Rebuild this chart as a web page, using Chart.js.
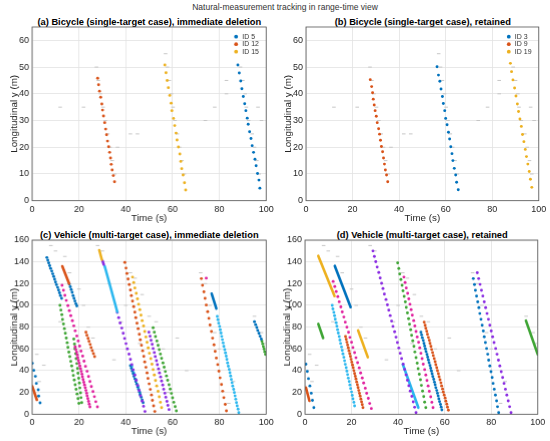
<!DOCTYPE html>
<html>
<head>
<meta charset="utf-8">
<script src="https://cdn.jsdelivr.net/npm/chart.js@4.4.0/dist/chart.umd.min.js"></script>
<style>
  body { margin: 0; background: #fff; width: 550px; height: 441px; overflow: hidden; position: relative;
         font-family: "Liberation Sans", Arial, sans-serif; color: #262626; }
  .wrap { position: absolute; }
  .ptitle { position: absolute; font-weight: bold; font-size: 9.3px; line-height: 10px; color: #000;
            white-space: nowrap; transform: translateX(-50%); }
  #main { position: absolute; left: 285px; top: 2px; font-size: 8.5px; line-height: 10px; color: #333;
          white-space: nowrap; transform: translateX(-50%); }
</style>
</head>
<body>
<div id="main">Natural-measurement tracking in range-time view</div>
<div class="ptitle" style="left:149.3px;top:16.5px">(a) Bicycle (single-target case), immediate deletion</div>
<div class="ptitle" style="left:422.8px;top:16.5px">(b) Bicycle (single-target case), retained</div>
<div class="ptitle" style="left:149.3px;top:229.5px">(c) Vehicle (multi-target case), immediate deletion</div>
<div class="ptitle" style="left:422.2px;top:229.5px">(d) Vehicle (multi-target case), retained</div>
<div class="wrap" id="wa"><canvas id="ca"></canvas></div>
<div class="wrap" id="wb"><canvas id="cb"></canvas></div>
<div class="wrap" id="wc"><canvas id="cc"></canvas></div>
<div class="wrap" id="wd"><canvas id="cd"></canvas></div>
<script>
// ── 数据：每条轨迹都是 [time (s), longitudinal y (m)] ──────────────────────────
const timeTicks = [0, 20, 40, 60, 80, 100];
const bikeYTicks = [0, 10, 20, 30, 40, 50, 60];
const carYTicks = [0, 20, 40, 60, 80, 100, 120, 140, 160];

// (a) bicycle, immediate deletion
const aId5 = [[87.9,50.8],[88.5,47.8],[89.1,44.8],[89.6,41.9],[90.2,39.0],[90.8,36.3],[91.3,33.7],[91.9,30.9],[92.3,28.6],[92.9,25.8],[93.5,23.3],[94.0,20.6],[94.6,18.1],[95.2,15.5],[95.7,13.1],[96.3,10.2],[96.9,7.7],[97.3,4.7]];
const aId12 = [[28.0,45.8],[28.4,43.4],[28.8,41.0],[29.3,38.7],[29.8,36.2],[30.1,33.9],[30.5,31.7],[31.0,29.2],[31.4,26.8],[31.8,24.7],[32.2,22.3],[32.7,20.2],[33.1,18.1],[33.5,16.0],[33.8,13.6],[34.2,11.5],[34.7,9.4],[35.2,7.1]];
const aId15 = [[56.7,50.8],[57.2,47.9],[57.7,45.0],[58.2,42.3],[58.8,39.4],[59.4,36.5],[59.7,33.7],[60.4,30.8],[60.9,28.1],[61.5,25.3],[61.9,22.7],[62.5,20.1],[63.1,17.5],[63.5,14.7],[63.9,12.0],[64.5,9.6],[65.1,6.7],[65.6,4.0]];

// (b) bicycle, retained
const bId3 = [[56.3,50.1],[56.9,47.0],[57.5,44.7],[58.0,41.8],[58.6,39.0],[59.0,36.4],[59.6,33.7],[60.0,30.8],[60.6,28.4],[61.2,25.6],[61.7,23.1],[62.2,20.2],[62.7,17.6],[63.1,15.0],[63.7,12.1],[64.3,9.6],[64.7,6.9],[65.4,4.1]];
const bId9 = [[27.6,45.3],[28.2,42.7],[28.6,40.4],[28.9,38.0],[29.3,35.8],[29.7,33.7],[30.2,31.6],[30.6,29.2],[31.2,26.9],[31.6,24.9],[32.0,22.6],[32.4,20.3],[32.9,18.3],[33.3,16.0],[33.7,13.7],[34.1,11.5],[34.6,9.6],[35.1,7.1]];
const bId19 = [[87.8,51.4],[88.3,48.3],[88.9,45.2],[89.6,42.2],[90.2,39.2],[90.8,36.2],[91.3,33.4],[91.9,30.6],[92.5,27.8],[93.0,24.8],[93.6,22.1],[94.2,19.2],[94.7,16.5],[95.3,13.7],[95.9,10.9],[96.4,8.0],[97.0,5.0]];

// natural measurements (grey clutter)
const bikeClutter = [[12,35],[22,35],[27.5,50],[28.3,45],[29.2,40],[30.3,35],[31.3,30],[32.3,25],[33.3,20],[34.2,15],[35.3,10],[36.5,20],[42,25],[45,25],[57,55],[57.8,50],[58.6,45],[59.5,40],[60.2,35],[61,30],[62,25],[63,20],[64,15],[65,10],[74,30],[78,35],[83,45],[83,40],[89,50],[90,45],[91,40],[91.5,35],[92.5,30],[94,25],[95,20],[96,15],[97,10],[96.5,35],[98,30]];
const carClutter = [[2,55],[5,45],[3,30],[8,155],[10,150],[12,85],[14,145],[16,130],[20,115],[22,100],[24,80],[26,70],[28,155],[30,150],[33,120],[38,85],[40,100],[42,130],[44,125],[47,110],[50,90],[53,85],[56,60],[62,70],[66,40],[72,130],[74,120],[76,100],[78,75],[80,60],[84,10],[86,30],[95,90],[98,75],[99,65],[35,50],[46,65],[58,20]];

// (c) vehicle, immediate deletion
const cBlue1 = [[0.1,46.8],[0.7,40.3],[1.4,34.8],[1.8,28.3],[2.6,22.5],[2.8,16.6],[3.4,10.5]];
const cOrange1 = [[0.1,25.5],[2.0,13.2]];
const cBlue2 = [[6.3,144],[6.7,141.5],[7.1,139],[7.5,136.5],[7.9,134],[8.4,131.5],[8.8,129],[9.2,126.5],[9.6,124],[10.0,121.5],[10.4,119],[10.9,116.5],[11.3,114],[11.7,111.5],[12.1,109],[12.6,106.5]];
const cOrange2 = [[12.9,136],[15.8,120]];
const cBlue3 = [[15.9,119.5],[16.3,117],[16.7,114.5],[17.1,112],[17.5,109],[17.9,106.5],[18.3,104],[18.7,101.5],[19.1,99.5]];
const cMagenta1 = [[12.8,118.5],[13.4,113.8],[14.0,109.2],[14.6,104.5],[15.3,99.8],[15.9,95.2],[16.5,90.5],[17.2,85.9],[17.8,81.2],[18.4,76.6],[19.1,71.9],[19.7,67.3],[20.3,62.6],[20.9,58.0],[21.6,53.3],[22.2,48.7],[22.8,44.0],[23.5,39.4],[24.1,34.7],[24.7,30.1],[25.3,25.4],[26.0,20.8],[26.6,16.1],[27.2,11.5],[27.9,6.8]];
const cMagenta2 = [[18.4,62],[18.7,59.5],[19.0,57],[19.3,54.5],[19.5,52],[19.8,49.5],[20.1,47],[20.4,44.4],[20.7,41.9],[21.0,39.4],[21.3,36.9],[21.5,34.4],[21.8,31.9],[22.1,29.4],[22.4,26.9],[22.7,24.4],[23.0,21.9],[23.3,19.3],[23.5,16.8],[23.8,14.3],[24.1,11.8],[24.4,9.3],[24.7,6.8]];
const cGreen1 = [[11.9,100],[12.3,95.7],[12.7,91.4],[13.0,87.1],[13.4,82.9],[13.8,78.6],[14.2,74.3],[14.6,70.0],[15.0,65.7],[15.3,61.4],[15.7,57.1],[16.1,52.9],[16.5,48.6],[16.9,44.3],[17.3,40.0],[17.6,35.7],[18.0,31.4],[18.4,27.1],[18.8,22.9],[19.2,18.6],[19.6,14.3],[20.0,10.0]];
const cGreen2 = [[17.8,69],[18.1,64.5],[18.3,60],[18.6,55.6],[18.8,51.1],[19.1,46.6],[19.4,42.1],[19.6,37.6],[19.9,33.1],[20.2,28.7],[20.4,24.2],[20.7,19.7],[20.9,15.2],[21.2,10.7]];
const cOrange3 = [[23.0,75.4],[23.4,72.6],[23.9,69.8],[24.3,67.0],[24.8,64.1],[25.2,61.3],[25.7,58.5],[26.2,55.7],[26.7,52.9]];
const cYellow1 = [[28.7,150.8],[29.8,142]];
const cPurple1 = [[30.1,141],[30.6,137.5]];
const cCyan1 = [[31.0,136],[36.4,94]];
const cPurple2 = [[36.4,93.5],[37.0,88.7],[37.6,83.9],[38.3,79.1],[38.9,74.3],[39.5,69.6],[40.1,64.8],[40.7,60.0],[41.4,55.2],[42.0,50.4],[42.6,45.6],[43.2,40.8],[43.9,36.0],[44.5,31.2],[45.1,26.5],[45.7,21.7],[46.3,16.9],[47.0,12.1],[47.6,7.3],[48.2,2.5]];
const cBlue4 = [[42.0,44.6],[42.4,42.2],[42.8,39.8],[43.2,37.3],[43.5,34.9],[43.9,32.5],[44.3,30.1],[44.7,27.7],[45.1,25.2],[45.5,22.8],[45.9,20.4],[46.2,18],[46.6,15.6],[47.0,13.1],[47.4,10.7]];
const cCyan2 = [[42.6,44],[43.4,38],[44.3,32],[45.2,25],[46.1,18]];
const cOrange4 = [[39.6,139.4],[40.1,134.3],[40.5,129.3],[41.0,124.2],[41.5,119.1],[42.0,114.1],[42.4,109.0],[42.9,103.9],[43.4,98.8],[43.9,93.8],[44.3,88.7],[44.8,83.6],[45.3,78.6],[45.8,73.5],[46.2,68.4],[46.7,63.4],[47.2,58.3],[47.7,53.2],[48.1,48.1],[48.6,43.1],[49.1,38.0],[49.5,32.9],[50.0,27.9],[50.5,22.8],[51.0,17.7],[51.4,12.7],[51.9,7.6],[52.4,2.5]];
const cYellow2 = [[42.9,126],[43.4,121],[43.9,116],[44.5,111],[45.0,106],[45.5,101],[46.0,96],[46.5,91],[47.0,86],[47.6,81],[48.1,76],[48.6,71],[49.1,66],[49.6,61],[50.1,56],[50.7,51],[51.2,46],[51.7,41],[52.2,36],[52.7,31],[53.2,26],[53.8,21],[54.3,16],[54.8,11],[55.3,6]];
const cPurple3 = [[49.9,75.4],[50.4,71.7],[50.8,67.9],[51.3,64.2],[51.7,60.4],[52.2,56.7],[52.6,53.0],[53.1,49.2],[53.5,45.5],[54.0,41.7],[54.4,38.0],[54.9,34.3],[55.3,30.5],[55.8,26.8],[56.2,23.0],[56.7,19.3],[57.1,15.6],[57.6,11.8],[58.0,8.1],[58.5,4.3]];
const cGreen3 = [[51.7,79.4],[52.2,75.4],[52.7,71.4],[53.3,67.3],[53.8,63.3],[54.3,59.3],[54.8,55.3],[55.3,51.3],[55.9,47.2],[56.4,43.2],[56.9,39.2],[57.4,35.2],[57.9,31.2],[58.5,27.1],[59.0,23.1],[59.5,19.1],[60.0,15.1],[60.5,11.0],[61.1,7.0],[61.6,3.0]];
const cOrange5 = [[72.3,124.6],[72.8,118.5],[73.4,112.4],[73.9,106.4],[74.4,100.3],[75.0,94.2],[75.5,88.1],[76.0,82.0],[76.6,76.0],[77.1,69.9],[77.7,63.8],[78.2,57.7],[78.7,51.6],[79.3,45.6],[79.8,39.5],[80.3,33.4],[80.9,27.3],[81.4,21.2],[81.9,15.2],[82.5,9.1],[83.0,3.0]];
const cMagenta3 = [[74.4,125]];
const cBlue5 = [[76.7,110.8],[78.7,97]];
const cCyan3 = [[79.1,89.8],[79.4,86.8],[79.7,83.7],[80.1,80.7],[80.4,77.6],[80.7,74.6],[81.0,71.5],[81.3,68.5],[81.6,65.5],[81.9,62.4],[82.3,59.4],[82.6,56.3],[82.9,53.3],[83.2,50.3],[83.5,47.2],[83.8,44.2],[84.2,41.1],[84.5,38.1],[84.8,35.1],[85.1,32.0],[85.4,29.0],[85.7,25.9],[86.1,22.9],[86.4,19.9],[86.7,16.8],[87.0,13.8],[87.3,10.7],[87.6,7.7],[88.0,4.6],[88.3,1.5]];
const cBlue6 = [[95.0,85],[95.5,82.3],[96.0,79.7],[96.4,77],[96.9,74.3],[97.4,71.7],[97.9,69]];
const cGreen4 = [[98.2,67],[98.5,64.6],[98.8,62.2],[99.1,59.8],[99.4,57.4],[99.7,55]];

// (d) vehicle, retained
const dBlue1 = [[0.4,46],[1.0,39.3],[1.5,32.7],[2.1,26],[2.7,19.3],[3.2,12.7],[3.8,6]];
const dOrange1 = [[0.4,24.5],[1.9,12.3]];
const dGreen1 = [[5.7,83],[7.8,70]];
const dYellow1 = [[5.7,145.5],[12.7,108.6]];
const dBlue2 = [[12.8,136.3],[19.6,98.4]];
const dMagenta1 = [[12.1,122],[12.8,117.3],[13.4,112.7],[14.1,108],[14.7,103.3],[15.4,98.6],[16.0,94],[16.7,89.3],[17.3,84.6],[18.0,80],[18.7,75.3],[19.3,70.6],[20.0,66],[20.6,61.3],[21.3,56.6],[21.9,51.9],[22.6,47.3],[23.3,42.6],[23.9,37.9],[24.6,33.3],[25.2,28.6],[25.9,23.9],[26.5,19.2],[27.2,14.6],[27.8,9.9],[28.5,5.2]];
const dCyan1 = [[11.7,100],[12.0,96.8],[12.4,93.6],[12.7,90.5],[13.0,87.3],[13.4,84.1],[13.7,80.9],[14.0,77.7],[14.3,74.6],[14.7,71.4],[15.0,68.2],[15.3,65.0],[15.7,61.8],[16.0,58.7],[16.3,55.5],[16.7,52.3],[17.0,49.1],[17.3,45.9],[17.7,42.8],[18.0,39.6],[18.3,36.4],[18.6,33.2],[19.0,30.0],[19.3,26.9],[19.6,23.7],[20.0,20.5],[20.3,17.3],[20.6,14.1],[21.0,11.0],[21.3,7.7]];
const dOrange2 = [[17.4,71.4],[17.7,68.8],[18.0,66.2],[18.3,63.6],[18.6,61],[18.9,58.3],[19.2,55.7],[19.5,53.1],[19.8,50.5],[20.1,47.9],[20.4,45.3],[20.7,42.7],[21.0,40.1],[21.3,37.5],[21.6,34.9],[21.9,32.3],[22.2,29.7],[22.5,27.1],[22.8,24.5],[23.1,21.9],[23.4,19.2],[23.7,16.6],[24.0,14],[24.3,11.4],[24.6,8.8],[24.9,6.1]];
const dYellow2 = [[22.8,77],[27.0,52.3]];
const dPurple1 = [[29.2,150],[29.8,145],[30.4,140.1],[31.0,135.2],[31.7,130.2],[32.3,125.2],[32.9,120.3],[33.5,115.4],[34.1,110.4],[34.8,105.4],[35.4,100.5],[36.0,95.6],[36.6,90.6],[37.2,85.6],[37.8,80.7],[38.5,75.8],[39.1,70.8],[39.7,65.8],[40.3,60.9],[40.9,56.0],[41.5,51],[42.2,46],[42.8,41.1],[43.4,36.2],[44.0,31.2],[44.6,26.2],[45.2,21.3],[45.9,16.4],[46.5,11.4],[47.1,6.4],[47.7,1.5]];
const dGreen2 = [[39.8,139],[40.3,133.9],[40.7,128.8],[41.2,123.7],[41.7,118.5],[42.1,113.4],[42.6,108.3],[43.1,103.2],[43.5,98.1],[44.0,93],[44.5,87.8],[44.9,82.7],[45.4,77.6],[45.8,72.5],[46.3,67.4],[46.8,62.3],[47.2,57.2],[47.7,52],[48.2,46.9],[48.6,41.8],[49.1,36.7],[49.6,31.6],[50.0,26.5],[50.5,21.3],[51.0,16.2],[51.4,11.1],[51.9,6]];
const dMagenta2 = [[42.5,126],[43.0,121],[43.5,116],[44.1,111],[44.6,106],[45.1,101],[45.6,96],[46.1,91],[46.7,86],[47.2,81],[47.7,76],[48.2,71],[48.8,66],[49.3,61],[49.8,56],[50.3,51],[50.8,46],[51.4,41],[51.9,36],[52.4,31],[52.9,26],[53.4,21],[54.0,16],[54.5,11],[55.0,6]];
const dCyan2 = [[42,46],[48.7,6]];
const dBlue3 = [[49.8,75.4],[50.1,72.9],[50.4,70.3],[50.8,67.8],[51.1,65.2],[51.4,62.7],[51.7,60.1],[52.0,57.6],[52.4,55],[52.7,52.5],[53.0,49.9],[53.3,47.4],[53.7,44.8],[54.0,42.3],[54.3,39.7],[54.6,37.2],[54.9,34.6],[55.3,32.1],[55.6,29.5],[55.9,27],[56.2,24.4],[56.6,21.9],[56.9,19.3],[57.2,16.8],[57.5,14.2],[57.8,11.7],[58.2,9.1],[58.5,6.6],[58.8,4]];
const dOrange3 = [[51.2,84.6],[51.6,81.8],[51.9,79],[52.3,76.2],[52.6,73.4],[53.0,70.6],[53.4,67.9],[53.7,65.1],[54.1,62.3],[54.4,59.5],[54.8,56.7],[55.1,53.9],[55.5,51.1],[55.9,48.3],[56.2,45.5],[56.6,42.8],[56.9,40],[57.3,37.2],[57.6,34.4],[58.0,31.6],[58.4,28.8],[58.7,26],[59.1,23.2],[59.4,20.4],[59.8,17.6],[60.2,14.9],[60.5,12.1],[60.9,9.3],[61.2,6.5],[61.6,3.7]];
const dBlue4 = [[72.3,124.6],[72.8,119.2],[73.2,113.9],[73.7,108.5],[74.2,103.2],[74.7,97.9],[75.1,92.5],[75.6,87.2],[76.1,81.8],[76.6,76.5],[77.0,71.1],[77.5,65.8],[78.0,60.4],[78.5,55.1],[78.9,49.7],[79.4,44.4],[79.9,39],[80.4,33.7],[80.8,28.3],[81.3,23],[81.8,17.6],[82.3,12.3],[82.7,6.9],[83.2,1.5]];
const dPurple2 = [[74.0,130],[74.6,124.6],[75.2,119.3],[75.8,113.9],[76.4,108.6],[77.0,103.2],[77.6,97.9],[78.2,92.5],[78.8,87.2],[79.4,81.8],[80.0,76.5],[80.6,71.1],[81.2,65.8],[81.9,60.4],[82.5,55.1],[83.1,49.7],[83.7,44.4],[84.3,39],[84.9,33.7],[85.5,28.3],[86.1,23],[86.7,17.6],[87.3,12.3],[87.9,6.9],[88.5,1.5]];
const dGreen3 = [[94.9,86],[100,55]];

// ── 样式 ──────────────────────────────────────────────────────────────────────
const BLUE = '#0072BD', ORANGE = '#D95319', YELLOW = '#EDB120', PURPLE = '#8A2BE2',
      GREEN = '#3FA535', CYAN = '#2BB7EF', MAGENTA = '#E0209E';
const FONT = '"Liberation Sans", Arial, sans-serif';

const pts = arr => arr.map(([x, y]) => ({ x, y }));
const dots = (arr, color, label) => ({
  label, data: pts(arr), showLine: false, pointRadius: 1.45, pointHoverRadius: 1.45,
  pointBackgroundColor: color, pointBorderWidth: 0, order: 1,
});
const thick = (arr, color) => ({
  data: pts(arr), showLine: true, borderColor: color, borderWidth: 2.6,
  pointRadius: 0, borderCapStyle: 'round', order: 1,
});
const clutter = arr => ({
  data: pts(arr), showLine: false, pointStyle: 'line', pointRadius: 1.8,
  borderColor: '#c6c6c6', pointBorderColor: '#c6c6c6', pointBorderWidth: 1, order: 10,
});

// 坐标框 + 图内图例
const boxPlugin = {
  id: 'matBox',
  afterDraw(chart) {
    const { ctx, chartArea: a } = chart;
    ctx.save();
    ctx.strokeStyle = '#555';
    ctx.lineWidth = 0.8;
    ctx.strokeRect(a.left, a.top, a.right - a.left, a.bottom - a.top);
    const items = chart.data.datasets.filter(d => d.label);
    ctx.font = '7px ' + FONT;
    ctx.textBaseline = 'middle';
    items.forEach((d, i) => {
      const y = a.top + 9.7 + i * 7.5;
      const x = a.right - 30;
      ctx.fillStyle = d.pointBackgroundColor;
      ctx.beginPath(); ctx.arc(x, y, 1.9, 0, Math.PI * 2); ctx.fill();
      ctx.fillStyle = '#333';
      ctx.fillText(d.label, x + 6, y + 0.3);
    });
    ctx.restore();
  },
};

function makePanel(id, wrapId, area, yMax, yTicks, datasets) {
  const wrap = document.getElementById(wrapId);
  wrap.style.left = (area.left - 32) + 'px';
  wrap.style.top = (area.top - 13) + 'px';
  wrap.style.width = (32 + area.width + 9) + 'px';
  wrap.style.height = (13 + area.height + 25.3) + 'px';
  return new Chart(document.getElementById(id), {
    type: 'scatter',
    data: { datasets },
    options: {
      responsive: true,
      maintainAspectRatio: false,
      animation: false,
      layout: { padding: { top: 13, right: 9, bottom: 0, left: 0 } },
      plugins: { legend: { display: false }, tooltip: { enabled: false } },
      scales: {
        x: {
          type: 'linear', min: 0, max: 100,
          afterFit: s => { s.height = 25.3; },
          afterBuildTicks: s => { s.ticks = timeTicks.map(v => ({ value: v })); },
          grid: { color: '#e2e2e2', lineWidth: 0.8, drawTicks: false },
          border: { display: false },
          ticks: { padding: 3, color: '#262626', font: { size: 9, family: FONT }, maxRotation: 0 },
          title: { display: true, text: 'Time (s)', color: '#262626', padding: { top: 0, bottom: 2 },
                   font: { size: 9.8, family: FONT } },
        },
        y: {
          type: 'linear', min: 0, max: yMax,
          afterFit: s => { s.width = 32; },
          afterBuildTicks: s => { s.ticks = yTicks.map(v => ({ value: v })); },
          grid: { color: '#e2e2e2', lineWidth: 0.8, drawTicks: false },
          border: { display: false },
          ticks: { padding: 3, color: '#262626', font: { size: 9, family: FONT } },
          title: { display: true, text: 'Longitudinal y (m)', color: '#262626', padding: { top: 8.5, bottom: 0 },
                   font: { size: 9.8, family: FONT } },
        },
      },
    },
    plugins: [boxPlugin],
  });
}

makePanel('ca', 'wa', { left: 32, top: 27, width: 234.7, height: 173.7 }, 65, bikeYTicks, [
  dots(aId5, BLUE, 'ID 5'), dots(aId12, ORANGE, 'ID 12'), dots(aId15, YELLOW, 'ID 15'),
  clutter(bikeClutter),
]);

makePanel('cb', 'wb', { left: 305.7, top: 27, width: 234.3, height: 173.7 }, 65, bikeYTicks, [
  dots(bId3, BLUE, 'ID 3'), dots(bId9, ORANGE, 'ID 9'), dots(bId19, YELLOW, 'ID 19'),
  clutter(bikeClutter),
]);

makePanel('cc', 'wc', { left: 32, top: 240, width: 234.7, height: 173.3 }, 160, carYTicks, [
  dots(cBlue1, BLUE), thick(cOrange1, ORANGE), dots(cBlue2, BLUE), thick(cOrange2, ORANGE),
  dots(cBlue3, BLUE), dots(cMagenta1, MAGENTA), dots(cMagenta2, MAGENTA), dots(cGreen1, GREEN),
  dots(cGreen2, GREEN), dots(cOrange3, ORANGE), thick(cYellow1, YELLOW), thick(cPurple1, PURPLE),
  thick(cCyan1, CYAN), dots(cPurple2, PURPLE), dots(cBlue4, BLUE), dots(cCyan2, CYAN),
  dots(cOrange4, ORANGE), dots(cYellow2, YELLOW), dots(cPurple3, PURPLE), dots(cGreen3, GREEN),
  dots(cOrange5, ORANGE), dots(cMagenta3, MAGENTA), thick(cBlue5, BLUE), dots(cCyan3, CYAN),
  dots(cBlue6, BLUE), dots(cGreen4, GREEN),
  clutter(carClutter),
]);

makePanel('cd', 'wd', { left: 305, top: 240, width: 234.3, height: 173.3 }, 160, carYTicks, [
  dots(dBlue1, BLUE), thick(dOrange1, ORANGE), thick(dGreen1, GREEN), thick(dYellow1, YELLOW),
  thick(dBlue2, BLUE), dots(dMagenta1, MAGENTA), dots(dCyan1, CYAN), dots(dOrange2, ORANGE),
  thick(dYellow2, YELLOW), dots(dPurple1, PURPLE), dots(dGreen2, GREEN), dots(dMagenta2, MAGENTA),
  thick(dCyan2, CYAN), dots(dBlue3, BLUE), dots(dOrange3, ORANGE), dots(dBlue4, BLUE),
  dots(dPurple2, PURPLE), thick(dGreen3, GREEN),
  clutter(carClutter),
]);
</script>
</body>
</html>
